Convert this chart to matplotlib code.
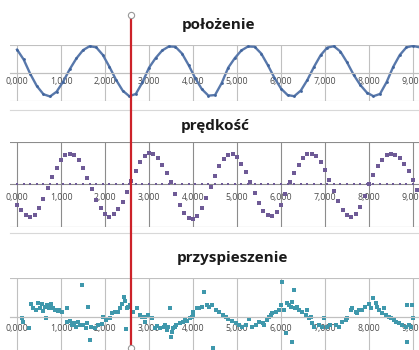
import matplotlib
matplotlib.use("Agg")
import matplotlib.pyplot as plt
import matplotlib.transforms as mtransforms
from matplotlib.lines import Line2D

# czas [s] - polozenie i kropki na osi predkosci
t = [0.0, 0.15, 0.30, 0.45, 0.60, 0.75, 0.90, 1.05, 1.20, 1.35,
     1.50, 1.65, 1.80, 1.95, 2.10, 2.25, 2.40, 2.55, 2.70, 2.85,
     3.00, 3.15, 3.30, 3.45, 3.60, 3.75, 3.90, 4.05, 4.20, 4.35,
     4.50, 4.65, 4.80, 4.95, 5.10, 5.25, 5.40, 5.55, 5.70, 5.85,
     6.00, 6.15, 6.30, 6.45, 6.60, 6.75, 6.90, 7.05, 7.20, 7.35,
     7.50, 7.65, 7.80, 7.95, 8.10, 8.25, 8.40, 8.55, 8.70, 8.85,
     9.00, 9.15]

polozenie = [0.82, 0.47, -0.04, -0.47, -0.76, -0.84, -0.67, -0.31, 0.13, 0.51,
             0.80, 0.94, 0.90, 0.63, 0.21, -0.25, -0.63, -0.83, -0.75, -0.34,
             0.18, 0.52, 0.79, 0.93, 0.92, 0.68, 0.27, -0.19, -0.58, -0.81,
             -0.79, -0.37, 0.18, 0.52, 0.79, 0.93, 0.92, 0.68, 0.27, -0.18,
             -0.56, -0.79, -0.83, -0.63, -0.25, 0.21, 0.62, 0.89, 0.94, 0.75,
             0.37, -0.07, -0.43, -0.70, -0.83, -0.75, -0.33, 0.21, 0.63, 0.90,
             0.95, 0.90]

zera = [0.0] * len(t)

# predkosc - gestsze probkowanie
t_v = [0.0, 0.1, 0.2, 0.3, 0.4, 0.5, 0.6, 0.7, 0.8, 0.9,
       1.0, 1.1, 1.2, 1.3, 1.4, 1.5, 1.6, 1.7, 1.8, 1.9,
       2.0, 2.1, 2.2, 2.3, 2.4, 2.5, 2.6, 2.7, 2.8, 2.9,
       3.0, 3.1, 3.2, 3.3, 3.4, 3.5, 3.6, 3.7, 3.8, 3.9,
       4.0, 4.1, 4.2, 4.3, 4.4, 4.5, 4.6, 4.7, 4.8, 4.9,
       5.0, 5.1, 5.2, 5.3, 5.4, 5.5, 5.6, 5.7, 5.8, 5.9,
       6.0, 6.1, 6.2, 6.3, 6.4, 6.5, 6.6, 6.7, 6.8, 6.9,
       7.0, 7.1, 7.2, 7.3, 7.4, 7.5, 7.6, 7.7, 7.8, 7.9,
       8.0, 8.1, 8.2, 8.3, 8.4, 8.5, 8.6, 8.7, 8.8, 8.9,
       9.0, 9.1]
predkosc = [-0.49, -0.60, -0.72, -0.77, -0.72, -0.57, -0.35, -0.08, 0.17, 0.39,
            0.57, 0.68, 0.72, 0.68, 0.56, 0.37, 0.15, -0.11, -0.36, -0.57,
            -0.71, -0.77, -0.71, -0.59, -0.41, -0.18, 0.08, 0.32, 0.52, 0.66,
            0.73, 0.71, 0.62, 0.46, 0.27, 0.05, -0.23, -0.48, -0.68, -0.80,
            -0.82, -0.74, -0.57, -0.33, -0.06, 0.20, 0.43, 0.60, 0.69, 0.70,
            0.63, 0.48, 0.28, 0.05, -0.21, -0.44, -0.62, -0.73, -0.74, -0.66,
            -0.48, -0.23, 0.05, 0.27, 0.46, 0.61, 0.70, 0.72, 0.66, 0.53,
            0.33, 0.10, -0.16, -0.40, -0.60, -0.72, -0.76, -0.69, -0.53, -0.28,
            0.0, 0.22, 0.42, 0.58, 0.68, 0.72, 0.69, 0.61, 0.47, 0.30,
            0.10, -0.13]

# przyspieszenie - punkty pomiarowe (rozrzucone)
t_acc = [0.11, 0.14, 0.28, 0.31, 0.37, 0.43, 0.48, 0.52, 0.56, 0.60,
         0.64, 0.66, 0.67, 0.73, 0.77, 0.81, 0.86, 0.92, 0.96, 1.02,
         1.13, 1.13, 1.20, 1.24, 1.30, 1.35, 1.39, 1.43, 1.47, 1.51,
         1.56, 1.60, 1.62, 1.66, 1.69, 1.77, 1.85, 1.92, 1.96, 2.03,
         2.11, 2.15, 2.23, 2.30, 2.34, 2.38, 2.42, 2.45, 2.47, 2.49,
         2.53, 2.57, 2.64, 2.72, 2.80, 2.83, 2.91, 2.91, 2.98, 3.06,
         3.14, 3.17, 3.25, 3.33, 3.36, 3.40, 3.44, 3.48, 3.49, 3.52,
         3.55, 3.59, 3.62, 3.70, 3.77, 3.82, 3.86, 3.93, 3.97, 3.99,
         4.01, 4.08, 4.14, 4.20, 4.25, 4.31, 4.36, 4.44, 4.45, 4.52,
         4.59, 4.67, 4.74, 4.80, 4.88, 4.97, 5.05, 5.12, 5.20, 5.27,
         5.35, 5.42, 5.50, 5.58, 5.61, 5.69, 5.73, 5.77, 5.80, 5.88,
         5.95, 5.99, 6.03, 6.07, 6.12, 6.14, 6.18, 6.22, 6.24, 6.26,
         6.30, 6.32, 6.37, 6.41, 6.48, 6.56, 6.58, 6.64, 6.67, 6.71,
         6.75, 6.86, 6.94, 6.98, 7.05, 7.12, 7.24, 7.32, 7.39, 7.47,
         7.51, 7.58, 7.62, 7.70, 7.73, 7.77, 7.85, 7.92, 8.00, 8.04,
         8.08, 8.15, 8.19, 8.23, 8.30, 8.34, 8.38, 8.45, 8.49, 8.57,
         8.61, 8.68, 8.76, 8.83, 8.86, 8.87, 8.91, 8.95, 8.98, 9.00]
przyspieszenie = [-0.03, -0.11, -0.28, 0.33, 0.25, 0.19, 0.36, 0.25, 0.33, 0.16,
                  0.27, -0.01, 0.32, 0.23, 0.33, 0.25, 0.19, 0.16, 0.19, 0.14,
                  0.23, -0.11, -0.09, -0.20, -0.15, -0.24, -0.11, -0.20, 0.83, -0.20,
                  -0.27, -0.15, 0.27, -0.58, -0.24, -0.28, -0.20, -0.18, 0.02, -0.08,
                  -0.03, 0.10, 0.14, 0.14, 0.25, 0.33, 0.53, 0.42, -0.30, 0.23,
                  0.27, 0.32, 0.14, 0.23, 0.06, 0.02, 0.02, -0.11, 0.06, -0.03,
                  -0.28, -0.22, -0.27, -0.24, -0.20, -0.33, -0.24, 0.23, -0.50, -0.37,
                  -0.28, -0.24, -0.20, -0.15, -0.11, -0.07, -0.09, -0.03, 0.02, 0.14,
                  0.06, 0.23, 0.25, 0.27, 0.66, 0.32, 0.27, 0.32, -0.79, 0.19,
                  0.14, 0.06, 0.02, -0.04, -0.10, -0.15, -0.20, -0.24, -0.20, -0.05,
                  -0.24, -0.20, -0.11, -0.15, -0.20, -0.07, 0.02, 0.06, 0.10, 0.14,
                  0.19, 0.32, 0.91, 0.19, -0.40, 0.36, 0.32, 0.27, -0.63, 0.40,
                  0.70, 0.23, 0.27, 0.19, 0.14, 0.06, 0.19, -0.03, 0.02, -0.15,
                  -0.24, -0.20, -0.24, -0.03, -0.24, -0.20, -0.20, -0.24, -0.11, -0.07,
                  -0.03, 0.19, 0.23, 0.14, 0.10, 0.19, 0.19, 0.27, 0.33, 0.23,
                  0.49, 0.36, 0.27, 0.19, 0.10, 0.23, 0.06, 0.02, -0.03, -0.07,
                  -0.11, -0.15, -0.20, -0.24, -0.63, 0.32, -0.20, -0.24, 0.32, -0.03]

x_ticks = [0, 1, 2, 3, 4, 5, 6, 7, 8, 9]
x_labels = ["0,000", "1,000", "2,000", "3,000", "4,000",
            "5,000", "6,000", "7,000", "8,000", "9,000"]
t_kursor = 2.59   # polozenie czerwonego kursora

W, H = 419.0, 350.0
fig = plt.figure(figsize=(4.19, 3.5), dpi=100)
fig.patch.set_facecolor("white")


def px_axes(top, bottom):
    # prostokat osi w pikselach (od gory obrazka)
    return [10 / W, (H - bottom) / H, 409 / W, (bottom - top) / H]


def setup(ax, grid_col, pad, zero_line=True):
    # najpierw os x przez zero (set_position resetuje ticki)
    for s in ["top", "right", "left"]:
        ax.spines[s].set_visible(False)
    ax.spines["bottom"].set_position(("data", 0))
    ax.spines["bottom"].set_color(grid_col)
    ax.spines["bottom"].set_linewidth(0.8)
    ax.spines["bottom"].set_visible(zero_line)
    ax.set_xlim(-0.16, 9.136)
    ax.set_ylim(-1, 1)
    ax.set_xticks(x_ticks)
    ax.set_xticklabels(x_labels, fontsize=6.3, color="#4a4a4a", family="Open Sans")
    ax.set_yticks([-1, 0, 1])
    ax.set_yticklabels([])
    ax.tick_params(length=0, pad=pad)
    ax.grid(True, color=grid_col, linewidth=0.8)
    ax.set_facecolor("none")
    ax.set_axisbelow(True)


ax1 = fig.add_axes(px_axes(44.5, 101))
setup(ax1, "#c0c0c0", 3.0)
ax1.plot(t, polozenie, "-", color="#5878ab", linewidth=1.7,
         marker="o", markersize=2.0, markerfacecolor="#40649c", markeredgewidth=0)

ax2 = fig.add_axes(px_axes(141.7, 226.7))
setup(ax2, "#8c8c8c", 6.0, zero_line=False)
ax2.plot(t, zera, "s", color="#6e5a96", markersize=2.0, markeredgewidth=0)
ax2.plot(t_v, predkosc, "s", color="#6e5a96", markersize=2.2, markeredgewidth=0)

ax3 = fig.add_axes(px_axes(278.3, 356.3))
setup(ax3, "#c0c0c0", 4.5)
ax3.plot(t_acc, przyspieszenie, "s", color="#3f98ac", markersize=2.3, markeredgewidth=0)

# tytuly wykresow
tfont = dict(fontsize=11, fontweight="bold", family="Open Sans", color="#1a1a1a",
             ha="center", va="center")
fig.text(218 / W, 1 - 25 / H, "położenie", **tfont)
fig.text(215 / W, 1 - 126 / H, "prędkość", **tfont)
fig.text(232 / W, 1 - 258 / H, "przyspieszenie", **tfont)

# obramowania kolejnych wykresow
for yy in [110, 233]:
    fig.add_artist(Line2D([10 / W, 1], [1 - yy / H, 1 - yy / H],
                          color="#d8d8d8", linewidth=0.8))

# czerwony kursor przez wszystkie trzy wykresy
trans = mtransforms.blended_transform_factory(ax1.transData, fig.transFigure)
fig.add_artist(Line2D([t_kursor, t_kursor], [1 - 17 / H, 1 - 346 / H], transform=trans,
                      color="#cc2229", linewidth=1.6, zorder=10))
fig.add_artist(Line2D([t_kursor, t_kursor], [1 - 15 / H, 1 - 348 / H], transform=trans,
                      linestyle="none", marker="o", markersize=4.5,
                      markerfacecolor="white", markeredgecolor="#999999",
                      markeredgewidth=0.8, zorder=11))

fig.savefig("out.png", dpi=100)
